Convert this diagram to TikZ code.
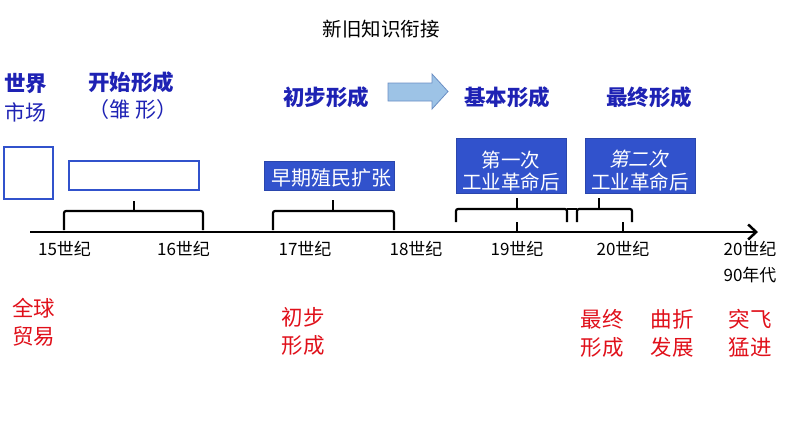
\documentclass[tikz,border=0pt]{standalone}
\usepackage{fontspec}
\setmainfont{Noto Sans CJK SC}
\usetikzlibrary{arrows.meta}
\definecolor{hblue}{HTML}{1E22B4}
\definecolor{boxblue}{HTML}{3152CC}
\definecolor{redtxt}{HTML}{E0101A}
\definecolor{arrfill}{HTML}{9DC3E6}
\definecolor{arrdraw}{HTML}{6B8FC4}
\begin{document}
\begin{tikzpicture}[x=1pt,y=-1pt,
  head/.style={text=hblue, font=\fontsize{21.5}{24}\selectfont\bfseries, inner sep=0},
  headlight/.style={text=hblue, font=\fontsize{21}{24}\selectfont, inner sep=0},
  bluebox/.style={fill=boxblue, draw=boxblue!85!black, line width=0.8, minimum width=110, minimum height=55, inner sep=0},
  coverbox/.style={fill=white, draw=boxblue, line width=2.5, inner sep=0},
  boxtxt/.style={text=white, font=\fontsize{19.5}{22.5}\selectfont, align=center, inner sep=0},
  yr/.style={font=\fontsize{17}{26}\selectfont, inner sep=0, align=center},
  redlbl/.style={text=redtxt, font=\fontsize{21.5}{28}\selectfont, inner sep=0, align=center},
  bracestyle/.style={line width=2.2, line join=round, rounded corners=2},
]
\useasboundingbox (0,0) rectangle (794,447);

% title
\node[font=\fontsize{19.5}{22}\selectfont, inner sep=0] (title) at (381,29) {新旧知识衔接};

% headings
\node[head] (h1a) at (26,84) {世界};
\node[headlight] (h1b) at (26,112) {市场};
\node[head] (h2a) at (131,82) {开始形成};
\node[headlight] (h2b) at (133,110) {（雏 形）};
\node[head] (h3) at (326,97) {初步形成};
\node[head] (h4) at (507,97) {基本形成};
\node[head] (h5) at (649,97) {最终形成};

% block arrow
\filldraw[fill=arrfill, draw=arrdraw, line width=0.8]
  (388,83) -- (432,83) -- (432,74) -- (448,91.5) -- (432,109) -- (432,101) -- (388,101) -- cycle;

% boxes
\node[coverbox, minimum width=49, minimum height=52] (b1) at (28.5,173) {};
\node[coverbox, minimum width=130, minimum height=29] (b2) at (134,175.5) {};
\node[fill=boxblue, draw=boxblue!85!black, line width=0.8, minimum width=130, minimum height=29, inner sep=0] (b3) at (329,175.5) {};
\node[boxtxt, font=\fontsize{20}{22}\selectfont] (b3t) at (331,178) {早期殖民扩张};
\node[bluebox] (b4) at (511,165.5) {};
\node[boxtxt] (b4t) at (511,171) {第一次\\工业革命后};
\node[bluebox] (b5) at (640,165.5) {};
\node[boxtxt, xslant=0.22, transform shape] (b5a) at (640,159.5) {第二次};
\node[boxtxt] (b5b) at (640,182) {工业革命后};

% timeline
\coordinate (t0) at (30,232);
\coordinate (t1) at (758,232);
\draw[line width=2.5, -{Straight Barb[length=8,width=15,line width=2.5]}] (t0) -- (t1);
\draw[line width=2.2] (517,222) -- (517,232);
\draw[line width=2.2] (623,222) -- (623,232);

% braces
\draw[bracestyle] (64,230) -- (64,211) -- (203,211) -- (203,230);
\draw[line width=2.2] (134,211) -- (134,201);
\draw[bracestyle] (273,230) -- (273,211) -- (394,211) -- (394,230);
\draw[line width=2.2] (333,211) -- (333,200);
\draw[bracestyle] (456,222) -- (456,209) -- (567,209) -- (567,222);
\draw[bracestyle] (577,222) -- (577,209) -- (632,209) -- (632,222);
\draw[line width=2.2] (567,209) -- (577,209);
\draw[line width=2.2] (517,209) -- (517,198);
\draw[line width=2.2] (599,209) -- (599,198);

% year labels
\node[yr] (y15) at (64.5,249) {15世纪};
\node[yr] (y16) at (183.5,249) {16世纪};
\node[yr] (y17) at (305,249) {17世纪};
\node[yr] (y18) at (416,249) {18世纪};
\node[yr] (y19) at (517,249) {19世纪};
\node[yr] (y20) at (623,249) {20世纪};
\node[yr] (y2090) at (750,262) {20世纪\\90年代};

% red labels
\node[redlbl] (r1) at (34,322) {全球\\贸易};
\node[redlbl] (r2) at (303,331) {初步\\形成};
\node[redlbl] (r3) at (602,333) {最终\\形成};
\node[redlbl] (r4) at (672,333) {曲折\\发展};
\node[redlbl] (r5) at (750,333) {突飞\\猛进};
\end{tikzpicture}
\end{document}
